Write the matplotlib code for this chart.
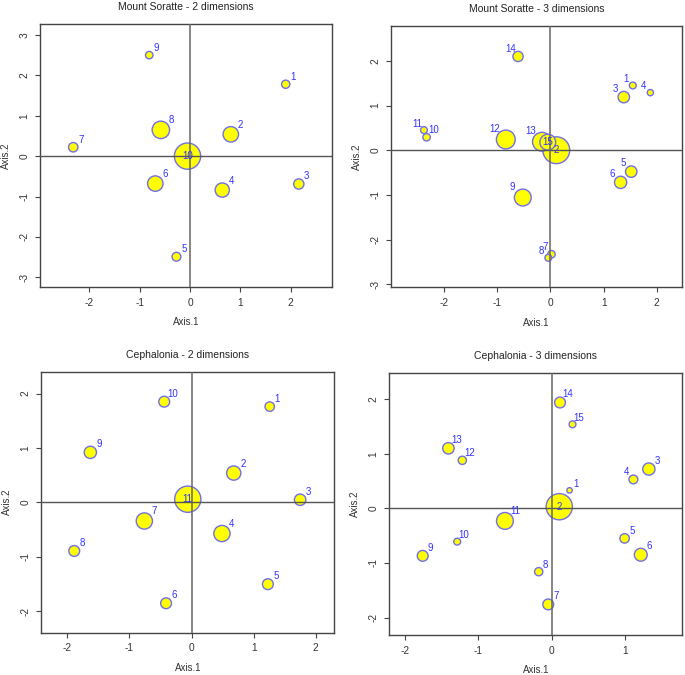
import matplotlib
matplotlib.use('Agg')
import matplotlib.pyplot as plt

plt.rcParams['font.family'] = ['Liberation Sans', 'DejaVu Sans']
plt.rcParams['axes.unicode_minus'] = False

# --- data: (axis1, axis2, weight) per site ---
ms2_x = [1.90, 0.81, 2.16, 0.64, -0.27, -0.69, -2.32, -0.58, -0.81, -0.05]
ms2_y = [1.78, 0.54, -0.69, -0.84, -2.49, -0.68, 0.22, 0.65, 2.50, 0.00]
ms2_w = [3.7, 7.3, 4.7, 6.7, 4.0, 7.3, 4.3, 8.3, 3.3, 12.7]

ms3_x = [1.55, 0.11, 1.38, 1.88, 1.52, 1.32, 0.02, -0.04, -0.52, -2.33,
         -2.38, -0.84, -0.16, -0.61, -0.05]
ms3_y = [1.45, 0.00, 1.19, 1.29, -0.48, -0.72, -2.33, -2.41, -1.06, 0.29,
         0.45, 0.24, 0.19, 2.10, 0.18]
ms3_w = [3.0, 13.0, 5.3, 2.7, 5.3, 5.7, 3.3, 3.0, 8.0, 3.3, 3.0, 9.0, 9.0, 4.7, 7.5]

ce2_x = [1.26, 0.68, 1.75, 0.49, 1.23, -0.41, -0.76, -1.89, -1.63, -0.44, -0.06]
ce2_y = [1.76, 0.54, 0.05, -0.57, -1.50, -1.85, -0.34, -0.89, 0.92, 1.85, 0.06]
ce2_w = [4.3, 6.7, 5.3, 7.7, 5.0, 5.0, 7.7, 5.0, 5.7, 5.0, 12.7]

ce3_x = [0.24, 0.10, 1.32, 1.11, 0.99, 1.21, -0.05, -0.18, -1.76, -1.29,
         -0.64, -1.22, -1.41, 0.11, 0.28]
ce3_y = [0.33, 0.03, 0.72, 0.53, -0.55, -0.85, -1.76, -1.16, -0.87, -0.61,
         -0.23, 0.88, 1.10, 1.94, 1.54]
ce3_w = [2.3, 12.7, 5.7, 4.0, 4.3, 6.0, 5.0, 3.7, 5.0, 3.0, 8.0, 3.7, 5.3, 5.0, 3.0]

panels = [
    dict(title='Mount Soratte - 2 dimensions', x=ms2_x, y=ms2_y, w=ms2_w,
         xlim=(-2.98, 2.82), ylim=(-3.24, 3.27), xt=range(-2, 3), yt=range(-3, 4),
         rect=[0.0584, 0.5748, 0.4263, 0.3896], side='ur', special={10: 'c'}),
    dict(title='Mount Soratte - 3 dimensions', x=ms3_x, y=ms3_y, w=ms3_w,
         xlim=(-3.0, 2.47), ylim=(-3.07, 2.79), xt=range(-2, 3), yt=range(-3, 3),
         rect=[0.5708, 0.5744, 0.4244, 0.3876], side='ul', special={2: 'c', 15: 'c', 10: 'ur'}),
    dict(title='Cephalonia - 2 dimensions', x=ce2_x, y=ce2_y, w=ce2_w,
         xlim=(-2.42, 2.30), ylim=(-2.39, 2.40), xt=range(-2, 3), yt=range(-2, 3),
         rect=[0.0603, 0.0627, 0.4277, 0.3866], side='ur', special={11: 'c'}),
    dict(title='Cephalonia - 3 dimensions', x=ce3_x, y=ce3_y, w=ce3_w,
         xlim=(-2.215, 1.775), ylim=(-2.32, 2.48), xt=range(-2, 2), yt=range(-2, 3),
         rect=[0.5683, 0.0593, 0.4277, 0.3881], side='ur', special={2: 'c', 4: 'ul'}),
]

fig = plt.figure(figsize=(6.85, 6.75), dpi=100)
px = 72.0 / fig.dpi  # points per pixel

for p in panels:
    ax = fig.add_axes(p['rect'])
    ax.set_xlim(*p['xlim'])
    ax.set_ylim(*p['ylim'])

    sizes = [(2 * r * px + 0.6) ** 2 for r in p['w']]
    ax.scatter(p['x'], p['y'], s=sizes, c='#ffff00', edgecolors='#6f6fe8',
               linewidths=1.0, zorder=2)
    ax.axhline(0, color='#555555', lw=1, zorder=3)
    ax.axvline(0, color='#666666', lw=1.1, zorder=3)

    for i, (xx, yy, r) in enumerate(zip(p['x'], p['y'], p['w'])):
        lab = i + 1
        side = p['special'].get(lab, p['side'])
        d = 0.7 * r + 4.5
        if side == 'c':
            off = (0, 0)
        elif side == 'ul':
            off = (-d, d)
        else:
            off = (d, d)
        ax.annotate(str(lab), (xx, yy), xytext=off, textcoords='offset pixels',
                    ha='center', va='center', fontsize=7, color='#3333ff', zorder=4)

    ax.set_title(p['title'], fontsize=7.5, pad=10, color='#222222')
    ax.set_xlabel('Axis.1', fontsize=7, labelpad=7, color='#333333')
    ax.set_ylabel('Axis.2', fontsize=7, labelpad=6, color='#333333')
    ax.set_xticks(list(p['xt']))
    ax.set_yticks(list(p['yt']))
    ax.tick_params(length=3.6, width=0.8, color='#444444', labelsize=7.3,
                   labelcolor='#333333', pad=4)
    for t in ax.get_yticklabels():
        t.set_rotation(90)
        t.set_va('center')
    for s in ax.spines.values():
        s.set_color('#444444')
        s.set_linewidth(1)

fig.savefig('out.png', dpi=100)
